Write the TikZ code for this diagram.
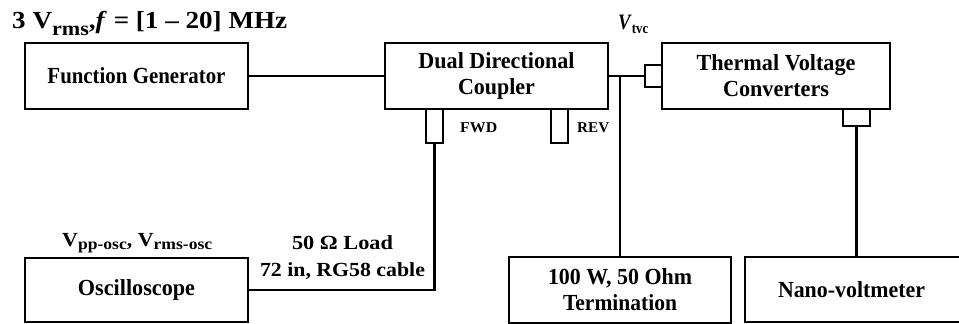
\documentclass[tikz,border=0pt]{standalone}
\usepackage{fontspec}
\usepackage{graphicx}
\setmainfont{Liberation Serif}
\newcommand{\tw}[2]{\resizebox{#1}{\height}{#2}}
\newcommand{\lsub}[3]{\raisebox{-#2}{\fontsize{#1}{#1}\selectfont #3}}
\begin{document}
\begin{tikzpicture}[x=1pt,y=-1pt,
  box/.style={draw,line width=2.8pt,inner sep=0pt,align=center,font=\fontsize{23}{26}\selectfont\bfseries},
  port/.style={draw,line width=2.8pt,inner sep=0pt,fill=white},
  wire/.style={line width=2.8pt},
  lbl/.style={inner sep=0pt,font=\bfseries}]
\useasboundingbox (0,0) rectangle (959,324);
% boxes
\node[box,minimum width=223pt,minimum height=66pt] (fg) at (136.5,76) {\tw{178pt}{Function Generator}};
\node[box,minimum width=223pt,minimum height=66pt] (ddc) at (496.5,76) {\tw{156pt}{Dual Directional}\\\tw{77pt}{Coupler}};
\node[box,minimum width=228pt,minimum height=66pt] (tvc) at (776,76) {\tw{159pt}{Thermal Voltage}\\\tw{106pt}{Converters}};
\node[box,minimum width=223pt,minimum height=64pt] (osc) at (136.5,290) {\tw{117pt}{Oscilloscope}};
\node[box,minimum width=222pt,minimum height=66pt] (term) at (620,290) {\tw{144pt}{100 W, 50 Ohm}\\\tw{114pt}{Termination}};
\node[box,minimum width=250pt,minimum height=65pt] (nano) at (870,289.5) {\hspace*{-37pt}\tw{147pt}{Nano-voltmeter}};
% ports
\node[port,minimum width=17pt,minimum height=34pt] (fwd) at (434.5,126) {};
\node[port,minimum width=17pt,minimum height=34pt] (rev) at (559.5,126) {};
\node[port,minimum width=17pt,minimum height=22pt] (tvcin) at (653.5,76) {};
\node[port,minimum width=27pt,minimum height=17pt] (tvcout) at (856.5,117.5) {};
\coordinate (j) at (620,76);
% wires
\draw[wire] (fg.east) -- (ddc.west);
\draw[wire] (ddc.east) -- (tvcin.west);
\draw[wire] (j) -- (term.north);
\draw[wire] (fwd.south) -- (fwd.south |- osc.east) -- (osc.east);
\draw[wire] (tvcout.south) -- (tvcout.south |- nano.north);
% labels
\node[lbl,anchor=base west,font=\fontsize{24.5}{26}\selectfont\bfseries] (title) at (12,29)
  {\tw{275pt}{3 V\lsub{20}{6pt}{rms},\textit{f} = [1 – 20] MHz}};
\node[lbl,anchor=base west,font=\fontsize{22}{24}\selectfont\bfseries] (vtvc) at (618,29) {\tw{30pt}{\textit{V}\lsub{15}{4pt}{tvc}}};
\node[lbl,anchor=base west,font=\fontsize{15}{17}\selectfont\bfseries] (fwdl) at (460,132) {\tw{37pt}{FWD}};
\node[lbl,anchor=base west,font=\fontsize{15}{17}\selectfont\bfseries] (revl) at (577,132) {\tw{32pt}{REV}};
\node[lbl,anchor=base west,font=\fontsize{20}{22}\selectfont\bfseries] (vosc) at (62,246)
  {\tw{150pt}{V\lsub{16}{3pt}{pp-osc}, V\lsub{16}{3pt}{rms-osc}}};
\node[lbl,anchor=base,font=\fontsize{20}{22}\selectfont\bfseries] (load1) at (342.5,249) {\tw{101pt}{50 Ω Load}};
\node[lbl,anchor=base,font=\fontsize{20}{22}\selectfont\bfseries] (load2) at (342.5,276) {\tw{165pt}{72 in, RG58 cable}};
\end{tikzpicture}
\end{document}
